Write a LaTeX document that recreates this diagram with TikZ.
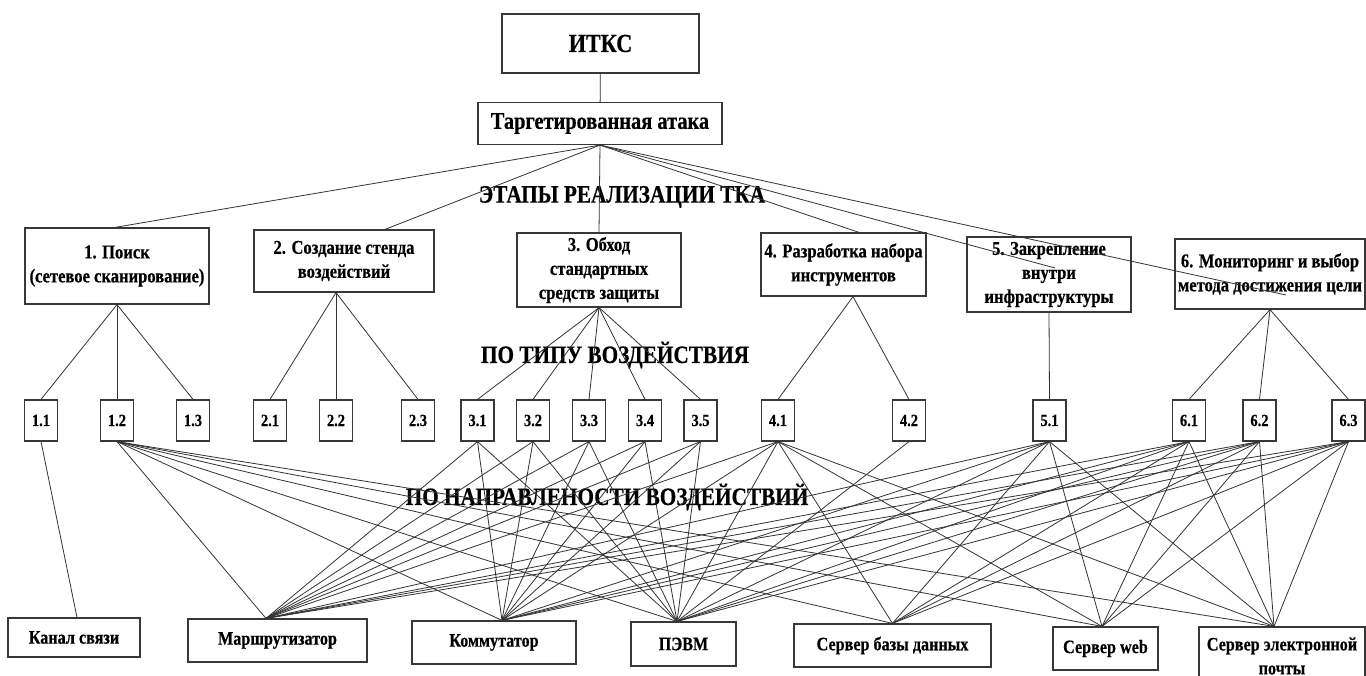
\documentclass[tikz,border=0pt]{standalone}
\usepackage{fontspec}
\setmainfont{Liberation Serif}[FakeStretch=0.85, BoldFeatures={FakeBold=0.5}]
\usetikzlibrary{calc}

\begin{document}
\begin{tikzpicture}[x=1pt,y=-1pt,
  frame/.style={draw=black!78, line width=1.2pt, inner sep=0pt, align=center, text=black},
  lvl/.style={frame, font=\bfseries\fontsize{19.5}{24}\selectfont},
  sub/.style={frame, minimum width=33pt, minimum height=41pt, font=\bfseries\fontsize{17}{20}\selectfont},
  dev/.style={frame, font=\bfseries\fontsize{19}{24}\selectfont},
  link/.style={draw=black!80, line width=0.8pt},
  band/.style={inner sep=0pt, text=black, font=\bfseries\fontsize{25}{29}\selectfont}]

\fill[white] (0,0) rectangle (1366,676);
\useasboundingbox (0,0) rectangle (1366,676);

% root and attack
\node[frame, minimum width=197pt, minimum height=59pt, font=\bfseries\fontsize{26}{30}\selectfont] (itks) at (600.5,43.5) {ИТКС};
\node[frame, minimum width=244pt, minimum height=42pt, font=\bfseries\fontsize{24}{28}\selectfont] (targ) at (600,123.5) {Таргетированная атака};

% stages
\node[lvl, minimum width=184pt, minimum height=76pt] (b1) at (117,266) {1. Поиск\\(сетевое сканирование)};
\node[lvl, minimum width=180pt, minimum height=62pt] (b2) at (344,261) {2. Создание стенда\\воздействий};
\node[lvl, minimum width=164pt, minimum height=74pt] (b3) at (599,270) {3. Обход\\стандартных\\средств защиты};
\node[lvl, minimum width=165pt, minimum height=63pt] (b4) at (843.5,264.5) {4. Разработка набора\\инструментов};
\node[lvl, minimum width=164pt, minimum height=75pt] (b5) at (1049,274.5) {5. Закрепление\\внутри\\инфраструктуры};
\node[lvl, minimum width=190pt, minimum height=70pt] (b6) at (1270,274) {6. Мониторинг и выбор\\метода достижения цели};

% impact types
\foreach \n/\x in {11/41,12/117,13/193,21/270,22/336,23/418,31/477.5,32/533,33/589,34/645,35/700.5,41/778,42/909,51/1049.5,61/1189,62/1259.5,63/1348.5}{
  \node[sub] (s\n) at (\x,420.5) {\pgfmathparse{int(\n/10)}\pgfmathresult.\pgfmathparse{int(mod(\n,10))}\pgfmathresult};
}

% targets
\node[dev, minimum width=132pt, minimum height=39pt] (kan) at (74,637.5) {Канал связи};
\node[dev, minimum width=179pt, minimum height=43pt] (mar) at (277.5,640.5) {Маршрутизатор};
\node[dev, minimum width=164pt, minimum height=43pt] (kom) at (494,642.5) {Коммутатор};
\node[dev, minimum width=105pt, minimum height=44pt] (pevm) at (683.5,644) {ПЭВМ};
\node[dev, minimum width=197pt, minimum height=43pt] (sbd) at (892.5,645.5) {Сервер базы данных};
\node[dev, minimum width=105pt, minimum height=43pt] (web) at (1105.5,648.5) {Сервер web};
\node[dev, minimum width=166pt, minimum height=58pt] (mail) at (1282,656) {Сервер электронной\\почты};

% section captions
\node[band] (capA) at (622,197) {ЭТАПЫ РЕАЛИЗАЦИИ ТКА};
\node[band] (capB) at (615,355) {ПО ТИПУ ВОЗДЕЙСТВИЯ};
\node[band] (capC) at (607,497) {ПО НАПРАВЛЕНОСТИ ВОЗДЕЙСТВИЙ};

% attachment points
\coordinate (kan-in) at ([xshift=3pt]kan.north);
\coordinate (mar-in) at ([xshift=-11.5pt]mar.north);
\coordinate (kom-in) at ([xshift=8pt]kom.north);
\coordinate (pevm-in) at ([xshift=-6.5pt]pevm.north);
\coordinate (sbd-in) at (sbd.north);
\coordinate (web-in) at ([xshift=-3.5pt]web.north);
\coordinate (mail-in) at ([xshift=-8pt]mail.north);
\coordinate (b5-end) at ($(b5.center)+(6,-6.5)$);
\coordinate (b6-end) at ($(b6.center)+(16,21)$);
\coordinate (b2-out) at ([xshift=-8pt]b2.south);
\coordinate (b4-out) at ([xshift=9.5pt]b4.south);

% hierarchy
\draw[link] (itks) -- (targ);
\draw[link] (targ.south) -- ([xshift=-2pt]b1.north);
\draw[link] (targ.south) -- ([xshift=41pt]b2.north);
\draw[link] (targ.south) -- (b3.north);
\draw[link] (targ.south) -- ([xshift=15.5pt]b4.north);
\draw[link] (targ.south) -- (b5-end);
\draw[link] (targ.south) -- (b6-end);

\foreach \t in {s11,s12,s13} \draw[link] (b1.south) -- (\t.north);
\foreach \t in {s21,s22,s23} \draw[link] (b2-out) -- (\t.north);
\foreach \t in {s31,s32,s33,s34,s35} \draw[link] (b3.south) -- (\t.north);
\foreach \t in {s41,s42} \draw[link] (b4-out) -- (\t.north);
\draw[link] (b5.south) -- (s51.north);
\foreach \t in {s61,s62,s63} \draw[link] (b6.south) -- (\t.north);

% impact directions
\draw[link] (s11.south) -- (kan-in);
\foreach \s in {s12,s41,s51,s61,s62,s63}
  \foreach \t in {mar,kom,pevm,sbd,web,mail}
    \draw[link] (\s.south) -- (\t-in);
\foreach \s in {s31,s32,s33,s34,s35}
  \foreach \t in {mar,kom,pevm}
    \draw[link] (\s.south) -- (\t-in);
\draw[link] (s42.south) -- (pevm-in);

\end{tikzpicture}
\end{document}
